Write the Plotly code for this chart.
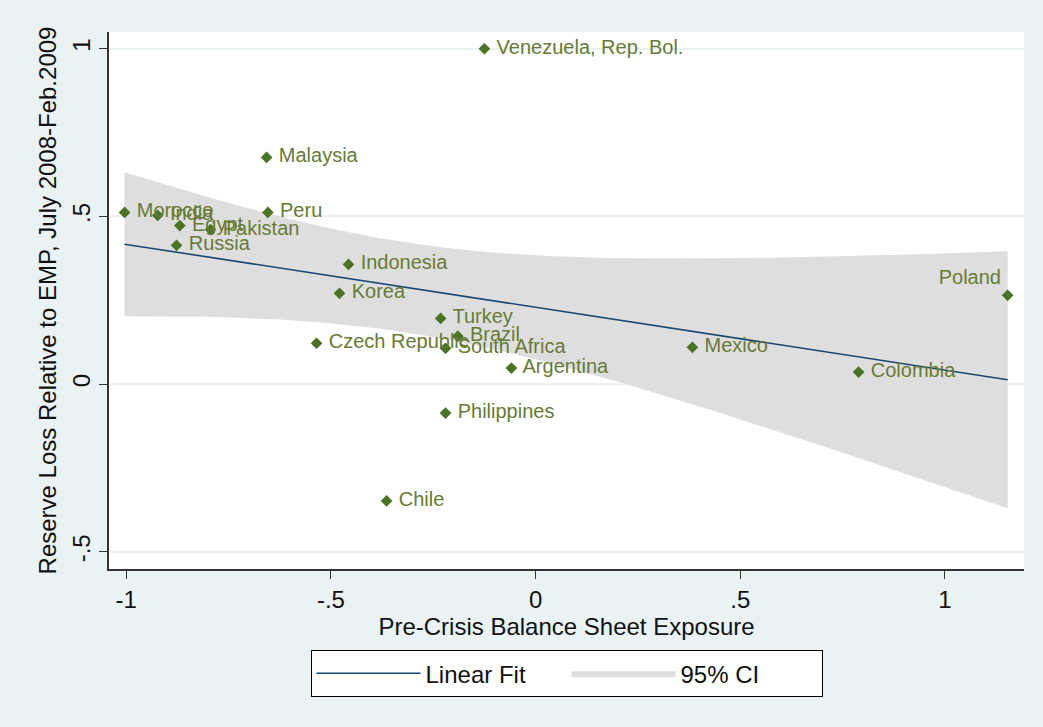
import numpy as np
import plotly.graph_objects as go

countries = ["Venezuela, Rep. Bol.", "Malaysia", "Morocco", "India", "Egypt", "Pakistan",
             "Peru", "Russia", "Indonesia", "Korea", "Turkey", "Brazil", "South Africa",
             "Czech Republic", "Argentina", "Philippines", "Chile", "Mexico", "Colombia", "Poland"]
exposure = [-0.125, -0.657, -1.004, -0.923, -0.869, -0.794, -0.654, -0.877, -0.457, -0.479,
            -0.232, -0.190, -0.220, -0.535, -0.059, -0.220, -0.364, 0.383, 0.789, 1.153]
reserve_loss = [1.000, 0.676, 0.512, 0.503, 0.473, 0.461, 0.512, 0.414, 0.357, 0.271,
                0.196, 0.143, 0.107, 0.122, 0.048, -0.086, -0.348, 0.110, 0.036, 0.265]
label_pos = ["middle right"] * 19 + ["top left"]
label_tmpl = [" %{text}"] * 19 + ["%{text}"]

x_ticks = [-1, -0.5, 0, 0.5, 1]
x_tick_text = ["-1", "-.5", "0", ".5", "1"]
y_ticks = [-0.5, 0, 0.5, 1]
y_tick_text = ["-.5", "0", ".5", "1"]

# linear fit with 95% CI of the mean prediction (Stata lfitci)
x = np.array(exposure)
y = np.array(reserve_loss)
n = len(x)
b, a = np.polyfit(x, y, 1)
resid = y - (a + b * x)
s = np.sqrt(np.sum(resid ** 2) / (n - 2))
sxx = np.sum((x - x.mean()) ** 2)
t_crit = 2.1009  # t(0.975, df=18)
xg = np.linspace(x.min(), x.max(), 100)
yg = a + b * xg
se = s * np.sqrt(1.0 / n + (xg - x.mean()) ** 2 / sxx)
upper = yg + t_crit * se
lower = yg - t_crit * se

fig = go.Figure()
fig.add_trace(go.Scatter(
    x=np.concatenate([xg, xg[::-1]]), y=np.concatenate([upper, lower[::-1]]),
    fill="toself", fillcolor="#DEDEDE", line=dict(width=0, color="#DEDEDE"),
    mode="lines", name="95% CI", legendrank=2, hoverinfo="skip"))
fig.add_trace(go.Scatter(
    x=xg, y=yg, mode="lines", line=dict(color="#1A476F", width=1.6),
    name="Linear Fit", legendrank=1))
fig.add_trace(go.Scatter(
    x=exposure, y=reserve_loss, mode="markers+text", text=countries,
    texttemplate=label_tmpl, textposition=label_pos,
    textfont=dict(family="Liberation Sans, Arial, sans-serif", size=20, color="#687A34"),
    marker=dict(symbol="diamond", size=9, color="#4A7326"),
    showlegend=False))

axis_font = dict(family="Liberation Sans, Arial, sans-serif", size=24, color="#111111")

fig.update_layout(
    width=1043, height=727,
    paper_bgcolor="#EAF2F3", plot_bgcolor="#FFFFFF",
    margin=dict(l=109, r=19, t=32, b=158),
    showlegend=True,
    legend=dict(orientation="h", x=0.5, xanchor="center", y=-0.151, yanchor="top",
                bordercolor="#000000", borderwidth=1, bgcolor="#FFFFFF",
                font=axis_font, entrywidth=136, itemwidth=104),
    xaxis=dict(range=[-1.042, 1.193], tickvals=x_ticks, ticktext=x_tick_text,
               showgrid=False, zeroline=False, showline=True, linecolor="#333333",
               linewidth=1.5, ticks="outside", ticklen=8, tickcolor="#333333",
               tickfont=axis_font, automargin=False,
               title=dict(text="Pre-Crisis Balance Sheet Exposure", font=axis_font, standoff=0)),
    yaxis=dict(range=[-0.551, 1.05], tickvals=y_ticks, ticktext=y_tick_text,
               showgrid=True, gridcolor="#EAF2F3", gridwidth=1.5, zeroline=False,
               showline=True, linecolor="#333333", linewidth=1.5,
               ticks="outside", ticklen=8, tickcolor="#333333", tickangle=-90,
               tickfont=axis_font, automargin=False,
               title=dict(text="Reserve Loss Relative to EMP, July 2008-Feb.2009",
                          font=axis_font, standoff=4)),
)

fig.write_html("out.html", config={"displayModeBar": False},
               post_script="document.body.style.margin='0';")
